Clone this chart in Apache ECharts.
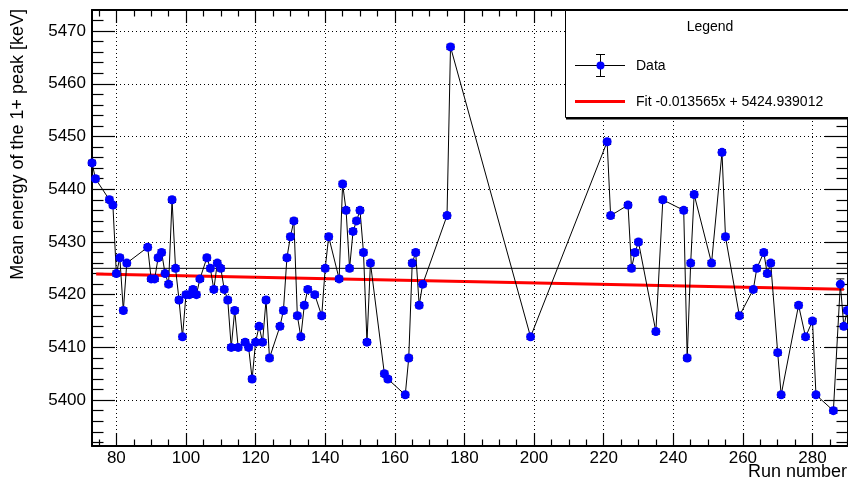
<!DOCTYPE html>
<html><head><meta charset="utf-8">
<script src="https://cdn.jsdelivr.net/npm/echarts@6/dist/echarts.min.js"></script>
<style>html,body{margin:0;padding:0;background:#fff}#c{width:848px;height:485px}</style>
</head><body><div id="c"></div><script>
// ---- data ----
const runs = [73,74,78,79,80,81,82,83,89,90,91,92,93,94,95,96,97,98,99,100,101,102,103,104,106,107,108,109,110,111,112,113,114,115,117,118,119,120,121,122,123,124,127,128,129,130,131,132,133,134,135,137,139,140,141,144,145,146,147,148,149,150,151,152,153,157,158,163,164,165,166,167,168,175,176,199,221,222,227,228,229,230,235,237,243,244,245,246,251,254,255,259,263,264,266,267,268,270,271,276,278,280,281,286,288,289,290];
const energies = [5445,5442,5438,5437,5424,5427,5417,5426,5429,5423,5423,5427,5428,5424,5422,5438,5425,5419,5412,5420,5420,5421,5420,5423,5427,5425,5421,5426,5425,5421,5419,5410,5417,5410,5411,5410,5404,5411,5414,5411,5419,5408,5414,5417,5427,5431,5434,5416,5412,5418,5421,5420,5416,5425,5431,5423,5441,5436,5425,5432,5434,5436,5428,5411,5426,5405,5404,5401,5408,5426,5428,5418,5422,5435,5467,5412,5449,5435,5437,5425,5428,5430,5413,5438,5436,5408,5426,5439,5426,5447,5431,5416,5421,5425,5428,5424,5426,5409,5401,5418,5412,5415,5401,5398,5422,5414,5417];
const errors = [0.5,0.5,0.5,0.5,0.5,0.5,0.5,0.5,0.5,0.5,0.5,0.5,0.5,0.5,0.5,0.5,0.5,0.5,0.5,0.5,0.5,0.5,0.5,0.5,0.5,0.5,0.5,0.5,0.5,0.5,0.5,0.5,0.5,0.5,0.5,0.5,0.5,0.5,0.5,0.5,0.5,0.5,0.5,0.5,0.5,0.5,0.5,0.5,0.5,0.5,0.5,0.5,0.5,0.5,0.5,0.5,0.5,0.5,0.5,0.5,0.5,0.5,0.5,0.5,0.5,0.5,0.5,0.5,0.5,0.5,0.5,0.5,0.5,0.5,0.5,0.5,0.5,0.5,0.5,0.5,0.5,0.5,0.5,0.5,0.5,0.5,0.5,0.5,0.5,0.5,0.5,0.5,0.5,0.5,0.5,0.5,0.5,0.5,0.5,0.5,0.5,0.5,0.5,0.5,1.0,0.5,0.5];
const fitX = [74.2, 289];
const fitY = [5423.93, 5421.02];
const refLineX = [73, 290.2];
const refLineY = [5425, 5425];
const xMajorTicks = [80,100,120,140,160,180,200,220,240,260,280];
const xMinorTicks = [75,85,90,95,105,110,115,125,130,135,145,150,155,165,170,175,185,190,195,205,210,215,225,230,235,245,250,255,265,270,275,285,290];
const yMajorTicks = [5400,5410,5420,5430,5440,5450,5460,5470];
const yMinorTicks = [5392,5394,5396,5398,5402,5404,5406,5408,5412,5414,5416,5418,5422,5424,5426,5428,5432,5434,5436,5438,5442,5444,5446,5448,5452,5454,5456,5458,5462,5464,5466,5468,5472];
const xTitle = 'Run number';
const yTitle = 'Mean energy of the 1+ peak [keV]';
const legendTitle = 'Legend';
const dataName = 'Data';
const fitName = 'Fit -0.013565x + 5424.939012';

const FONT = '"Liberation Sans", Arial, Helvetica, sans-serif';
const X_MIN = 73, X_MAX = 290.2, Y_MIN = 5391.3, Y_MAX = 5474.0;
const plain = v => String(Math.round(v));

function xAxis(pos, ticks, len, major) {
  return {
    type:'value', position:pos, min:X_MIN, max:X_MAX,
    axisLine:{show:major, onZero:false, lineStyle:{color:'#000', width:2}},
    axisTick:{show:true, inside:true, length:len, customValues:ticks, lineStyle:{color:'#000', width:1.2}},
    axisLabel:{show:major && pos==='bottom', customValues:ticks, formatter:plain, color:'#000', fontSize:17, fontFamily:FONT, margin:4},
    splitLine:{show:false}
  };
}
function yAxis(pos, ticks, len, major) {
  return {
    type:'value', position:pos, min:Y_MIN, max:Y_MAX,
    axisLine:{show:major, onZero:false, lineStyle:{color:'#000', width:2}},
    axisTick:{show:true, inside:true, length:len, customValues:ticks, lineStyle:{color:'#000', width:1.2}},
    axisLabel:{show:major && pos==='left', customValues:ticks, formatter:plain, color:'#000', fontSize:17, fontFamily:FONT, margin:6},
    splitLine:{show:false}
  };
}

const pts = runs.map((r,i)=>[r, energies[i]]);
const errPts = runs.map((r,i)=>[r, energies[i], errors[i]]);
const gridMarks = xMajorTicks.map(v=>({xAxis:v})).concat(yMajorTicks.map(v=>({yAxis:v})));

const chart = echarts.init(document.getElementById('c'), null, {renderer:'canvas'});
chart.setOption({
  animation:false,
  backgroundColor:'#fff',
  grid:{left:92, right:-1, top:10, bottom:39, containLabel:false},
  xAxis:[
    xAxis('bottom', xMajorTicks, 13, true),
    xAxis('bottom', xMinorTicks, 6.5, false),
    xAxis('top', xMajorTicks, 13, true),
    xAxis('top', xMinorTicks, 6.5, false)
  ],
  yAxis:[
    yAxis('left', yMajorTicks, 23, true),
    yAxis('left', yMinorTicks, 11.5, false),
    yAxis('right', yMajorTicks, 23, true),
    yAxis('right', yMinorTicks, 11.5, false)
  ],
  series:[
    {type:'line', xAxisIndex:0, yAxisIndex:0, data:refLineX.map((x,i)=>[x, refLineY[i]]), symbol:'none', silent:true,
     lineStyle:{color:'#000', width:1},
     markLine:{silent:true, symbol:'none', label:{show:false}, animation:false,
       lineStyle:{color:'#000', width:1, type:[1,3]}, emphasis:{disabled:true}, data:gridMarks}},
    {type:'line', xAxisIndex:0, yAxisIndex:0, data:fitX.map((x,i)=>[x, fitY[i]]), symbol:'none', silent:true,
     lineStyle:{color:'#ff0000', width:3}},
    {type:'custom', xAxisIndex:0, yAxisIndex:0, data:errPts, encode:{x:0, y:1}, silent:true,
     renderItem:function(params, api){
       const x = api.value(0), y = api.value(1), e = api.value(2);
       const t = api.coord([x, y+e]), b = api.coord([x, y-e]);
       const s = {stroke:'#000', lineWidth:1};
       return {type:'group', children:[
         {type:'line', shape:{x1:t[0], y1:t[1], x2:b[0], y2:b[1]}, style:s},
         {type:'line', shape:{x1:t[0]-4, y1:t[1], x2:t[0]+4, y2:t[1]}, style:s},
         {type:'line', shape:{x1:b[0]-4, y1:b[1], x2:b[0]+4, y2:b[1]}, style:s}
       ]};
     }},
    {type:'line', name:dataName, xAxisIndex:0, yAxisIndex:0, data:pts, symbol:'circle', symbolSize:9, showAllSymbol:true,
     clip:false, lineStyle:{color:'#000', width:1}, itemStyle:{color:'#0000ff', borderWidth:0}, z:5}
  ],
  graphic:[
    {type:'text', x:18, y:9, rotation:Math.PI/2,
     style:{text:yTitle, fill:'#000', font:'18px ' + FONT, align:'right', verticalAlign:'middle'}},
    {type:'text', x:847, y:472,
     style:{text:xTitle, fill:'#000', font:'18px ' + FONT, align:'right', verticalAlign:'middle'}},
    {type:'rect', shape:{x:565.5, y:10.5, width:300, height:107}, style:{fill:'#fff', stroke:'#000', lineWidth:1}, z:100},
    {type:'line', shape:{x1:566, y1:118.5, x2:870, y2:118.5}, style:{stroke:'#000', lineWidth:2}, z:100},
    {type:'text', x:710, y:27, style:{text:legendTitle, fill:'#000', font:'14px ' + FONT, align:'center', verticalAlign:'middle'}, z:101},
    {type:'line', shape:{x1:575, y1:65.5, x2:625, y2:65.5}, style:{stroke:'#000', lineWidth:1}, z:101},
    {type:'line', shape:{x1:600.5, y1:54, x2:600.5, y2:76}, style:{stroke:'#000', lineWidth:1}, z:101},
    {type:'line', shape:{x1:596, y1:54.5, x2:605, y2:54.5}, style:{stroke:'#000', lineWidth:1}, z:101},
    {type:'line', shape:{x1:596, y1:76.5, x2:605, y2:76.5}, style:{stroke:'#000', lineWidth:1}, z:101},
    {type:'circle', shape:{cx:600.5, cy:65.5, r:4}, style:{fill:'#0000ff'}, z:102},
    {type:'text', x:636, y:66, style:{text:dataName, fill:'#000', font:'14px ' + FONT, align:'left', verticalAlign:'middle'}, z:101},
    {type:'line', shape:{x1:575, y1:101.5, x2:625, y2:101.5}, style:{stroke:'#ff0000', lineWidth:3}, z:101},
    {type:'text', x:636, y:102, style:{text:fitName, fill:'#000', font:'14px ' + FONT, align:'left', verticalAlign:'middle'}, z:101}
  ]
});
</script></body></html>
